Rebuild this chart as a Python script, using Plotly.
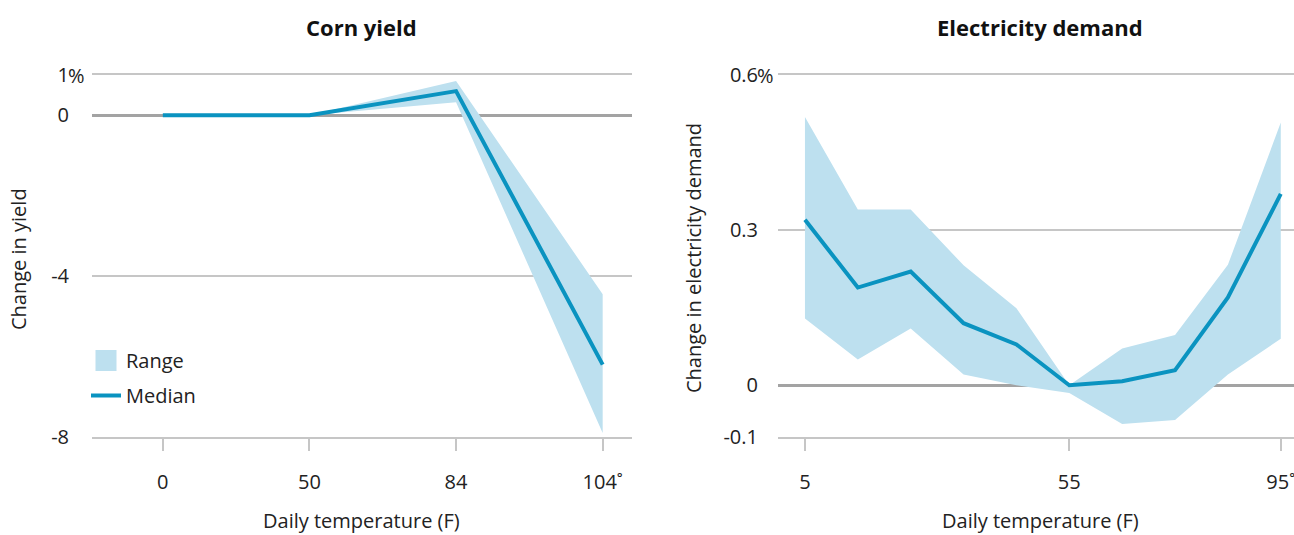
import plotly.graph_objects as go

# ---- data ----
corn_x_labels = ["0", "50", "84", "104˚"]
corn_median = [0.0, 0.0, 0.6, -6.2]
corn_upper = [0.0, 0.0, 0.85, -4.45]
corn_lower = [0.0, 0.0, 0.32, -7.9]
corn_y_ticks = [1, 0, -4, -8]
corn_y_labels = ["1", "0", "-4", "-8"]

elec_x = [5, 15, 25, 35, 45, 55, 65, 75, 85, 95]
elec_median = [0.32, 0.189, 0.22, 0.12, 0.079, 0.0, 0.008, 0.029, 0.17, 0.37]
elec_upper = [0.519, 0.34, 0.34, 0.232, 0.149, 0.0, 0.071, 0.097, 0.233, 0.508]
elec_lower = [0.129, 0.05, 0.11, 0.021, 0.0, -0.015, -0.075, -0.067, 0.021, 0.09]
elec_x_ticks = [5, 55, 95]
elec_x_labels = ["5", "55", "95˚"]
elec_y_ticks = [0.6, 0.3, 0, -0.1]
elec_y_labels = ["0.6", "0.3", "0", "-0.1"]

BAND = "#bde0ef"
LINE = "#0a93c0"
GRID = "#c6c6c6"
ZERO = "#a3a3a3"
TXT = "#222222"
FONT = "Open Sans"
FS = 20

W, H = 1294, 535
fig = go.Figure()

corn_idx = list(range(len(corn_x_labels)))
fig.add_trace(go.Scatter(
    x=corn_idx + corn_idx[::-1], y=corn_upper + corn_lower[::-1],
    fill="toself", fillcolor=BAND, line=dict(width=0), mode="lines",
    name="Range", xaxis="x", yaxis="y", hoverinfo="skip", showlegend=False))
fig.add_trace(go.Scatter(
    x=corn_idx, y=corn_median, mode="lines", line=dict(color=LINE, width=4),
    name="Median", xaxis="x", yaxis="y", showlegend=False))

fig.add_trace(go.Scatter(
    x=elec_x + elec_x[::-1], y=elec_upper + elec_lower[::-1],
    fill="toself", fillcolor=BAND, line=dict(width=0), mode="lines",
    name="Range", xaxis="x2", yaxis="y2", showlegend=False, hoverinfo="skip"))
fig.add_trace(go.Scatter(
    x=elec_x, y=elec_median, mode="lines", line=dict(color=LINE, width=4),
    name="Median", xaxis="x2", yaxis="y2", showlegend=False))

# legend-only entries
fig.add_trace(go.Scatter(x=[None], y=[None], mode="markers", name="Range",
                         marker=dict(symbol="square", size=22, color=BAND,
                                     line=dict(color=BAND, width=5)),
                         legendgroup="a", xaxis="x", yaxis="y"))
fig.add_trace(go.Scatter(x=[None], y=[None], mode="lines", name="Median",
                         line=dict(color=LINE, width=4),
                         legendgroup="b", xaxis="x", yaxis="y"))

y_dom = [1 - 437 / H, 1 - 75 / H]
common_x = dict(showgrid=False, zeroline=False, showline=True, mirror=True,
                linecolor=GRID, linewidth=1.5, ticks="outside",
                ticklen=12, tickcolor=GRID, tickwidth=1.5, automargin=False,
                ticklabelstandoff=14, ticklabeloverflow="allow",
                tickfont=dict(size=FS, color=TXT, family=FONT))
common_y = dict(showgrid=True, gridcolor=GRID, gridwidth=1.5, zeroline=True,
                zerolinecolor=ZERO, zerolinewidth=3, showline=False, ticks="",
                automargin=False, tickfont=dict(size=FS, color=TXT, family=FONT))

fig.update_layout(
    template="none",
    width=W, height=H,
    margin=dict(l=0, r=0, t=0, b=0, pad=0, autoexpand=False),
    paper_bgcolor="white", plot_bgcolor="white",
    font=dict(family=FONT, color=TXT),
    xaxis=dict(domain=[92 / W, 632 / W], range=[-0.483, 3.2], tickmode="array",
               tickvals=corn_idx, ticktext=corn_x_labels, anchor="y", **common_x),
    yaxis=dict(domain=y_dom, range=[-8, 1], tickmode="array",
               tickvals=corn_y_ticks, ticktext=corn_y_labels, anchor="x",
               ticklabelstandoff=22, **common_y),
    xaxis2=dict(domain=[778 / W, 1.0], range=[-0.1, 97.5], tickmode="array",
                tickvals=elec_x_ticks, ticktext=elec_x_labels, anchor="y2", **common_x),
    yaxis2=dict(domain=y_dom, range=[-0.1, 0.6], tickmode="array",
                tickvals=elec_y_ticks, ticktext=elec_y_labels, anchor="x2",
                ticklabelstandoff=19, **common_y),
    showlegend=True,
    legend=dict(x=86 / W, y=1 - 341 / H, xanchor="left", yanchor="top",
                bgcolor="rgba(0,0,0,0)", font=dict(size=FS, color=TXT, family=FONT),
                itemwidth=30, tracegroupgap=6, itemsizing="trace"),
)

TF = dict(size=22, color="#111", family=FONT)
AF = dict(size=FS, color=TXT, family=FONT)
ann = []
ann.append(dict(text="<b>Corn yield</b>", x=361 / W, y=1 - 27 / H, xref="paper", yref="paper",
                showarrow=False, font=TF, xanchor="center", yanchor="middle"))
ann.append(dict(text="<b>Electricity demand</b>", x=1040 / W, y=1 - 27 / H, xref="paper", yref="paper",
                showarrow=False, font=TF, xanchor="center", yanchor="middle"))
ann.append(dict(text="Daily temperature (F)", x=361 / W, y=1 - 520 / H, xref="paper", yref="paper",
                showarrow=False, font=AF, xanchor="center", yanchor="middle"))
ann.append(dict(text="Daily temperature (F)", x=1040 / W, y=1 - 520 / H, xref="paper", yref="paper",
                showarrow=False, font=AF, xanchor="center", yanchor="middle"))
ann.append(dict(text="Change in yield", x=18 / W, y=1 - 259 / H, xref="paper", yref="paper", textangle=-90,
                showarrow=False, font=AF, xanchor="center", yanchor="middle"))
ann.append(dict(text="Change in electricity demand", x=693 / W, y=1 - 258 / H, xref="paper", yref="paper",
                textangle=-90, showarrow=False, font=AF, xanchor="center", yanchor="middle"))
ann.append(dict(text="%", x=70 / W, y=corn_y_ticks[0], xref="paper", yref="y", showarrow=False,
                font=AF, xanchor="left", yanchor="middle", xshift=-4))
ann.append(dict(text="%", x=758 / W, y=elec_y_ticks[0], xref="paper", yref="y2", showarrow=False,
                font=AF, xanchor="left", yanchor="middle", xshift=-3))
fig.update_layout(annotations=ann)

fig.write_html("out.html", config={"displayModeBar": False},
               post_script="document.body.style.margin='0';document.body.style.overflow='hidden';")
